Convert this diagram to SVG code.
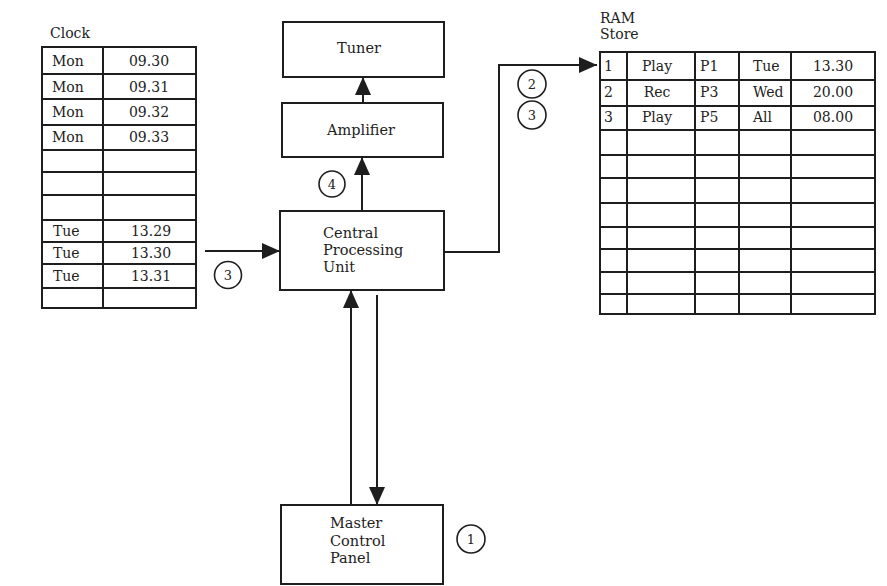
<svg xmlns="http://www.w3.org/2000/svg" width="887" height="586" viewBox="0 0 887 586">
<style>
  .box { fill: #fff; stroke: #1e1e1e; stroke-width: 2; }
  .grid { fill: none; stroke: #1e1e1e; stroke-width: 2; }
  .conn { fill: none; stroke: #1e1e1e; stroke-width: 2; }
  .t { font-family: "DejaVu Serif", "Liberation Serif", serif; font-size: 14px; fill: #222; }
  .lbl { font-family: "DejaVu Serif", "Liberation Serif", serif; font-size: 14.5px; fill: #222; }
  .c { text-anchor: middle; }
  .num { fill: #fff; stroke: #1e1e1e; stroke-width: 1.6; }
  .nt { font-family: "DejaVu Serif", "Liberation Serif", serif; font-size: 13px; fill: #222; text-anchor: middle; }
</style>
<defs>
  <marker id="ah" viewBox="0 0 18 16" markerWidth="18" markerHeight="16" refX="18" refY="8" markerUnits="userSpaceOnUse" orient="auto">
    <path d="M0,0 L18,8 L0,16 Z" fill="#1e1e1e"/>
  </marker>
</defs>
<rect width="887" height="586" fill="#fff"/>

<g id="clock">
  <text class="t" x="50" y="38">Clock</text>
  <rect class="grid" x="42" y="47" width="154" height="261"/>
  <path class="grid" d="M103,47 V308 M42,74 H196 M42,99 H196 M42,125 H196 M42,150 H196 M42,172 H196 M42,195 H196 M42,220 H196 M42,242 H196 M42,264 H196 M42,288 H196"/>
  <text class="t" x="52" y="66">Mon</text><text class="t c" x="149" y="66">09.30</text>
  <text class="t" x="52" y="92">Mon</text><text class="t c" x="149" y="92">09.31</text>
  <text class="t" x="52" y="117">Mon</text><text class="t c" x="149" y="117">09.32</text>
  <text class="t" x="52" y="142">Mon</text><text class="t c" x="149" y="142">09.33</text>
  <text class="t" x="53" y="236">Tue</text><text class="t c" x="151" y="236">13.29</text>
  <text class="t" x="53" y="258">Tue</text><text class="t c" x="151" y="258">13.30</text>
  <text class="t" x="53" y="281">Tue</text><text class="t c" x="151" y="281">13.31</text>
</g>

<g id="ram">
  <text class="t" x="600" y="23">RAM</text>
  <text class="t" x="600" y="39">Store</text>
  <rect class="grid" x="600" y="52" width="275" height="262"/>
  <path class="grid" d="M627,52 V314 M695,52 V314 M739,52 V314 M791,52 V314 M600,80 H875 M600,106 H875 M600,130 H875 M600,155 H875 M600,178 H875 M600,203 H875 M600,227 H875 M600,249 H875 M600,272 H875 M600,294 H875"/>
  <text class="t" x="604" y="71">1</text><text class="t c" x="657" y="71">Play</text><text class="t" x="700" y="71">P1</text><text class="t" x="753" y="71">Tue</text><text class="t c" x="833" y="71">13.30</text>
  <text class="t" x="604" y="97">2</text><text class="t c" x="657" y="97">Rec</text><text class="t" x="700" y="97">P3</text><text class="t" x="753" y="97">Wed</text><text class="t c" x="833" y="97">20.00</text>
  <text class="t" x="604" y="122">3</text><text class="t c" x="657" y="122">Play</text><text class="t" x="700" y="122">P5</text><text class="t" x="753" y="122">All</text><text class="t c" x="833" y="122">08.00</text>
</g>

<g id="tuner">
  <rect class="box" x="283" y="22" width="161" height="55"/>
  <text class="lbl c" x="359" y="53">Tuner</text>
</g>

<g id="amplifier">
  <rect class="box" x="282" y="103" width="161" height="54"/>
  <text class="lbl c" x="361" y="135">Amplifier</text>
</g>

<g id="cpu">
  <rect class="box" x="280" y="211" width="164" height="79"/>
  <text class="lbl" x="323" y="238">Central</text>
  <text class="lbl" x="323" y="255">Processing</text>
  <text class="lbl" x="323" y="272">Unit</text>
</g>

<g id="mcp">
  <rect class="box" x="281" y="505" width="162" height="79"/>
  <text class="lbl" x="330" y="528">Master</text>
  <text class="lbl" x="330" y="546">Control</text>
  <text class="lbl" x="330" y="563">Panel</text>
</g>

<g id="connectors">
  <path class="conn" d="M205,251 H280" marker-end="url(#ah)"/>
  <path class="conn" d="M363,103 V77" marker-end="url(#ah)"/>
  <path class="conn" d="M362,211 V157" marker-end="url(#ah)"/>
  <path class="conn" d="M444,252 H499 V65 H597" marker-end="url(#ah)"/>
  <path class="conn" d="M351,505 V290" marker-end="url(#ah)"/>
  <path class="conn" d="M377,295 V505" marker-end="url(#ah)"/>
</g>

<g id="labels">
  <circle class="num" cx="228" cy="275" r="13.5"/><text class="nt" x="228" y="280">3</text>
  <circle class="num" cx="332" cy="184" r="13"/><text class="nt" x="332" y="189">4</text>
  <circle class="num" cx="532" cy="84" r="14"/><text class="nt" x="532" y="89">2</text>
  <circle class="num" cx="532" cy="115" r="14"/><text class="nt" x="532" y="120">3</text>
  <circle class="num" cx="471" cy="539" r="14"/><text class="nt" x="471" y="544">1</text>
</g>
</svg>
